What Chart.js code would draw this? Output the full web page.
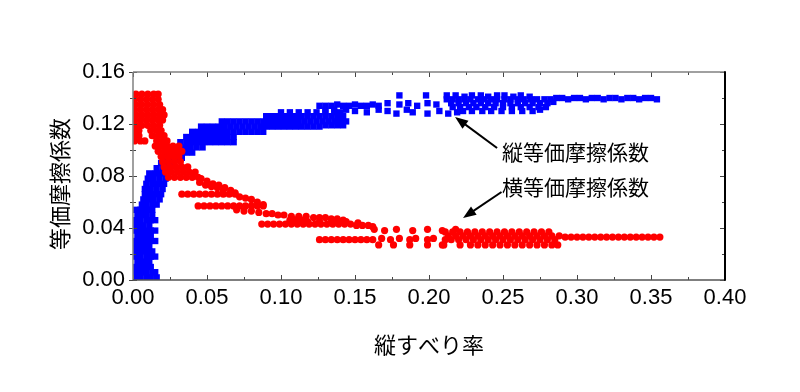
<!DOCTYPE html>
<html>
<head>
<meta charset="utf-8">
<script src="https://cdn.jsdelivr.net/npm/chart.js@4"></script>
<style>
  html, body { margin: 0; padding: 0; background: #fff; }
</style>
</head>
<body>
<canvas id="chart" width="800" height="392"></canvas>
<script>
// axis ticks
const xTicks = [0, 0.05, 0.10, 0.15, 0.20, 0.25, 0.30, 0.35, 0.40];
const yTicks = [0, 0.04, 0.08, 0.12, 0.16];
const xMinor = [0.025, 0.075, 0.125, 0.175, 0.225, 0.275, 0.325, 0.375];
const yMinor = [0.02, 0.06, 0.10, 0.14];

const xTitle = '縦すべり率';
const yTitle = '等価摩擦係数';
const seriesNames = ['縦等価摩擦係数', '横等価摩擦係数'];

// 縦等価摩擦係数 (slip ratio, coefficient)
const blueData = [
  [0.002,0.002],[0.005,0.002],[0.009,0.002],[0.012,0.002],[0.016,0.002],
  [0.002,0.006],[0.006,0.006],[0.009,0.006],[0.013,0.006],[0.015,0.006],
  [0.002,0.010],[0.005,0.010],[0.008,0.010],[0.012,0.010],
  [0.003,0.014],[0.006,0.014],[0.009,0.014],[0.011,0.014],
  [0.002,0.018],[0.005,0.018],[0.009,0.018],[0.012,0.018],[0.015,0.018],
  [0.001,0.022],[0.004,0.022],[0.008,0.022],[0.011,0.022],[0.013,0.022],
  [0.002,0.026],[0.006,0.026],[0.009,0.026],[0.011,0.026],
  [0.001,0.030],[0.004,0.030],[0.008,0.030],[0.011,0.030],[0.015,0.030],
  [0.003,0.034],[0.006,0.034],[0.009,0.034],[0.012,0.034],
  [0.002,0.038],[0.005,0.038],[0.008,0.038],[0.012,0.038],[0.015,0.038],
  [0.001,0.042],[0.004,0.042],[0.007,0.042],[0.011,0.042],
  [0.002,0.046],[0.005,0.046],[0.009,0.046],[0.012,0.046],[0.015,0.046],
  [0.003,0.050],[0.006,0.050],[0.009,0.050],[0.013,0.050],
  [0.002,0.054],[0.005,0.054],[0.008,0.054],[0.011,0.054],[0.013,0.054],
  [0.006,0.058],[0.009,0.058],[0.013,0.058],[0.016,0.058],
  [0.007,0.062],[0.010,0.062],[0.014,0.062],[0.018,0.062],
  [0.008,0.066],[0.011,0.066],[0.015,0.066],[0.019,0.066],
  [0.008,0.070],[0.012,0.070],[0.016,0.070],[0.020,0.070],
  [0.009,0.074],[0.013,0.074],[0.017,0.074],[0.021,0.074],
  [0.010,0.078],[0.014,0.078],[0.018,0.078],[0.022,0.078],
  [0.011,0.082],[0.015,0.082],[0.019,0.082],[0.023,0.082],
  [0.016,0.086],[0.020,0.086],[0.024,0.086],
  [0.019,0.090],[0.023,0.090],[0.027,0.090],
  [0.021,0.094],[0.025,0.094],[0.029,0.094],[0.033,0.094],
  [0.024,0.098],[0.028,0.098],[0.032,0.098],[0.036,0.098],[0.040,0.098],
  [0.027,0.102],[0.031,0.102],[0.035,0.102],[0.039,0.102],[0.043,0.102],[0.047,0.102],
  [0.032,0.106],[0.036,0.106],[0.040,0.106],[0.044,0.106],[0.048,0.106],[0.052,0.106],[0.056,0.106],[0.060,0.106],[0.064,0.106],[0.068,0.106],
  [0.036,0.110],[0.040,0.110],[0.044,0.110],[0.048,0.110],[0.052,0.110],[0.056,0.110],[0.060,0.110],[0.064,0.110],[0.068,0.110],
  [0.040,0.114],[0.044,0.114],[0.048,0.114],[0.052,0.114],[0.056,0.114],[0.060,0.114],[0.064,0.114],[0.068,0.114],[0.072,0.114],[0.076,0.114],[0.080,0.114],[0.084,0.114],[0.088,0.114],
  [0.046,0.118],[0.050,0.118],[0.054,0.118],[0.058,0.118],[0.062,0.118],[0.066,0.118],[0.070,0.118],[0.074,0.118],[0.078,0.118],[0.082,0.118],[0.086,0.118],[0.090,0.118],
  [0.094,0.118],[0.098,0.118],[0.102,0.118],[0.106,0.118],[0.110,0.118],[0.114,0.118],[0.118,0.118],[0.122,0.118],[0.126,0.118],[0.130,0.119],[0.134,0.119],[0.138,0.119],[0.142,0.119],
  [0.060,0.122],[0.064,0.122],[0.068,0.122],[0.072,0.122],[0.076,0.122],[0.080,0.122],[0.084,0.122],[0.088,0.122],[0.092,0.122],[0.096,0.122],[0.100,0.122],
  [0.104,0.122],[0.108,0.122],[0.112,0.122],[0.116,0.122],[0.120,0.122],[0.124,0.122],[0.128,0.122],[0.132,0.122],[0.136,0.122],[0.140,0.122],[0.144,0.122],
  [0.090,0.126],[0.094,0.126],[0.098,0.126],[0.102,0.126],[0.106,0.126],[0.110,0.126],[0.114,0.126],[0.118,0.126],[0.122,0.126],[0.126,0.126],[0.130,0.126],[0.134,0.126],[0.138,0.126],[0.142,0.126],
  [0.100,0.129],[0.106,0.129],[0.112,0.129],[0.118,0.129],[0.124,0.129],[0.130,0.129],[0.136,0.129],[0.140,0.129],
  [0.126,0.134],[0.130,0.134],[0.134,0.134],[0.138,0.135],[0.142,0.134],[0.146,0.134],[0.150,0.135],[0.154,0.134],[0.158,0.134],[0.162,0.135],[0.166,0.134],
  [0.130,0.131],[0.136,0.131],[0.144,0.131],[0.150,0.130],[0.158,0.129],[0.166,0.131],[0.172,0.130],[0.178,0.128],[0.185,0.131],[0.189,0.129],[0.199,0.128],[0.207,0.130],[0.213,0.128],[0.219,0.129],
  [0.172,0.136],[0.180,0.135],[0.186,0.136],[0.192,0.134],[0.199,0.136],[0.205,0.135],
  [0.180,0.142],[0.198,0.142],
  [0.212,0.142],[0.218,0.142],[0.224,0.141],[0.229,0.142],[0.235,0.142],[0.240,0.141],[0.246,0.142],[0.251,0.142],[0.257,0.141],[0.262,0.142],[0.268,0.141],
  [0.212,0.139],[0.216,0.139],[0.220,0.139],[0.224,0.139],[0.228,0.139],[0.233,0.139],[0.237,0.139],[0.242,0.139],[0.246,0.139],[0.251,0.139],[0.255,0.139],[0.260,0.139],[0.264,0.139],[0.269,0.139],[0.273,0.139],[0.278,0.139],[0.282,0.139],
  [0.215,0.136],[0.220,0.136],[0.225,0.136],[0.230,0.136],[0.235,0.136],[0.240,0.136],[0.245,0.136],[0.250,0.136],[0.255,0.136],[0.260,0.136],[0.265,0.136],[0.270,0.136],[0.275,0.136],[0.280,0.136],[0.284,0.137],
  [0.216,0.133],[0.221,0.133],[0.227,0.133],[0.232,0.133],[0.238,0.133],[0.244,0.133],[0.250,0.133],[0.256,0.133],[0.262,0.133],[0.268,0.133],[0.274,0.133],[0.279,0.133],
  [0.223,0.130],[0.229,0.130],[0.236,0.130],[0.242,0.130],[0.249,0.130],[0.256,0.130],[0.263,0.130],[0.270,0.130],[0.275,0.131],
  [0.286,0.140],[0.290,0.140],[0.294,0.139],[0.298,0.140],[0.302,0.140],[0.306,0.139],[0.310,0.140],[0.314,0.140],[0.318,0.139],[0.322,0.140],
  [0.326,0.140],[0.330,0.139],[0.334,0.140],[0.338,0.140],[0.342,0.139],[0.346,0.140],[0.350,0.140],[0.354,0.139]
];

// 横等価摩擦係数
const redData = [
  [0.002,0.143],[0.006,0.143],[0.010,0.143],[0.014,0.143],[0.017,0.143],
  [0.001,0.139],[0.005,0.139],[0.009,0.139],[0.013,0.139],[0.017,0.139],
  [0.002,0.135],[0.006,0.135],[0.010,0.135],[0.014,0.135],[0.018,0.135],
  [0.001,0.131],[0.005,0.131],[0.009,0.131],[0.013,0.131],[0.017,0.131],[0.020,0.131],
  [0.002,0.127],[0.006,0.127],[0.010,0.127],[0.014,0.127],[0.018,0.127],[0.021,0.127],
  [0.001,0.123],[0.005,0.123],[0.009,0.123],[0.013,0.123],[0.017,0.123],[0.020,0.123],
  [0.002,0.119],[0.006,0.119],[0.010,0.119],[0.014,0.119],[0.018,0.119],
  [0.001,0.115],[0.004,0.115],[0.012,0.115],[0.016,0.115],[0.019,0.115],
  [0.001,0.111],[0.004,0.111],[0.013,0.111],[0.017,0.111],[0.021,0.111],
  [0.001,0.107],[0.005,0.107],[0.008,0.107],[0.016,0.107],[0.020,0.107],[0.023,0.107],
  [0.015,0.103],[0.019,0.103],[0.023,0.103],[0.027,0.103],[0.031,0.103],
  [0.017,0.099],[0.021,0.099],[0.025,0.099],[0.029,0.099],[0.033,0.099],
  [0.019,0.095],[0.023,0.095],[0.027,0.095],[0.031,0.095],
  [0.020,0.091],[0.024,0.091],[0.028,0.091],[0.032,0.091],
  [0.021,0.087],[0.025,0.087],[0.029,0.087],[0.033,0.087],[0.037,0.087],
  [0.022,0.083],[0.026,0.083],[0.030,0.083],[0.034,0.083],[0.038,0.083],[0.042,0.083],
  [0.024,0.079],[0.028,0.079],[0.032,0.079],[0.036,0.079],[0.040,0.079],[0.044,0.079],
  [0.046,0.078],[0.050,0.076],[0.054,0.074],[0.058,0.073],[0.062,0.071],[0.066,0.069],[0.069,0.067],
  [0.045,0.075],[0.049,0.073],[0.053,0.072],[0.057,0.071],[0.061,0.069],
  [0.033,0.066],[0.037,0.066],[0.041,0.066],[0.045,0.066],[0.049,0.066],[0.053,0.066],[0.057,0.066],[0.061,0.066],[0.065,0.066],[0.069,0.066],
  [0.072,0.064],[0.076,0.063],[0.080,0.062],[0.084,0.060],[0.088,0.058],
  [0.044,0.057],[0.048,0.057],[0.052,0.057],[0.056,0.057],[0.060,0.057],[0.064,0.057],[0.068,0.057],[0.072,0.057],[0.076,0.057],[0.080,0.057],[0.084,0.057],[0.088,0.057],
  [0.070,0.054],[0.075,0.053],[0.080,0.053],[0.085,0.052],[0.090,0.051],[0.094,0.051],[0.098,0.050],[0.102,0.050],[0.107,0.049],[0.112,0.049],[0.117,0.049],
  [0.122,0.048],[0.126,0.048],[0.130,0.048],[0.134,0.047],[0.138,0.047],[0.142,0.046],
  [0.087,0.043],[0.091,0.043],[0.095,0.043],[0.099,0.043],[0.103,0.043],[0.107,0.043],[0.111,0.043],[0.115,0.043],[0.119,0.043],[0.123,0.043],
  [0.127,0.043],[0.131,0.043],[0.135,0.043],[0.139,0.043],[0.143,0.043],[0.147,0.043],[0.151,0.042],[0.155,0.042],[0.159,0.042],[0.162,0.041],
  [0.106,0.046],[0.110,0.046],[0.114,0.046],[0.118,0.045],[0.126,0.045],[0.134,0.044],[0.144,0.045],[0.152,0.044],
  [0.163,0.039],[0.170,0.038],[0.178,0.039],[0.189,0.038],[0.199,0.039],[0.209,0.038],[0.218,0.039],
  [0.126,0.031],[0.130,0.031],[0.134,0.031],[0.138,0.031],[0.142,0.031],[0.146,0.031],[0.150,0.031],[0.154,0.031],[0.158,0.031],[0.162,0.031],
  [0.168,0.032],[0.174,0.031],[0.180,0.032],[0.187,0.031],[0.191,0.032],[0.199,0.031],[0.203,0.032],[0.211,0.031],
  [0.166,0.027],[0.176,0.027],[0.187,0.027],[0.199,0.027],[0.209,0.027],
  [0.211,0.037],[0.216,0.037],[0.221,0.037],[0.226,0.037],[0.231,0.037],[0.236,0.037],[0.241,0.037],[0.246,0.037],[0.251,0.037],[0.256,0.037],[0.261,0.037],[0.266,0.037],[0.271,0.037],[0.276,0.037],[0.281,0.037],
  [0.213,0.034],[0.218,0.034],[0.223,0.034],[0.228,0.034],[0.233,0.034],[0.238,0.034],[0.243,0.034],[0.248,0.034],[0.253,0.034],[0.258,0.034],[0.263,0.034],[0.268,0.034],[0.273,0.034],[0.278,0.034],[0.283,0.034],[0.288,0.034],
  [0.215,0.031],[0.220,0.031],[0.225,0.031],[0.230,0.031],[0.235,0.031],[0.240,0.031],[0.245,0.031],[0.250,0.031],[0.255,0.031],[0.260,0.031],[0.265,0.031],[0.270,0.031],[0.275,0.031],[0.280,0.031],[0.285,0.031],
  [0.210,0.027],[0.221,0.027],[0.228,0.027],[0.233,0.027],[0.238,0.027],[0.243,0.027],[0.248,0.027],[0.253,0.027],[0.258,0.027],[0.263,0.027],[0.268,0.027],[0.273,0.027],[0.278,0.027],[0.283,0.027],[0.287,0.027],
  [0.292,0.033],[0.296,0.033],[0.300,0.033],[0.304,0.033],[0.308,0.033],[0.312,0.033],[0.316,0.033],[0.320,0.033],[0.324,0.033],[0.328,0.033],
  [0.332,0.033],[0.336,0.033],[0.340,0.033],[0.344,0.033],[0.348,0.033],[0.352,0.033],[0.356,0.033]
];

// callouts: label anchor and arrow (data coords)
const notes = [
  { text: seriesNames[0], at: [0.2493, 0.0985], from: [0.246, 0.1015], to: [0.2176, 0.1254] },
  { text: seriesNames[1], at: [0.2493, 0.0715], from: [0.249, 0.0677], to: [0.223, 0.0477] }
];

const numFont = '"Liberation Sans", Arial, sans-serif';
const jpFont = '"Noto Sans CJK JP", sans-serif';

const toXY = a => a.map(p => ({ x: p[0], y: p[1] }));

function arrow(ctx, x0, y0, x1, y1) {
  const ang = Math.atan2(y1 - y0, x1 - x0);
  const hl = 13, hw = 5;
  ctx.beginPath();
  ctx.moveTo(x0, y0);
  ctx.lineTo(x1 - Math.cos(ang) * hl * 0.8, y1 - Math.sin(ang) * hl * 0.8);
  ctx.stroke();
  ctx.beginPath();
  ctx.moveTo(x1, y1);
  ctx.lineTo(x1 - Math.cos(ang) * hl - Math.sin(ang) * hw, y1 - Math.sin(ang) * hl + Math.cos(ang) * hw);
  ctx.lineTo(x1 - Math.cos(ang) * hl + Math.sin(ang) * hw, y1 - Math.sin(ang) * hl - Math.cos(ang) * hw);
  ctx.closePath();
  ctx.fill();
}

//frame, inward ticks, callouts, axis titles
const decor = {
  id: 'decor',
  afterDatasetsDraw(chart) {
    const { ctx, chartArea: a, scales: { x, y } } = chart;
    ctx.save();
    ctx.lineWidth = 1;
    ctx.strokeStyle = '#444';
    const seg = (x0, y0, x1, y1) => { ctx.beginPath(); ctx.moveTo(x0, y0); ctx.lineTo(x1, y1); ctx.stroke(); };
    xTicks.forEach(v => { const p = Math.round(x.getPixelForValue(v)) + 0.5; seg(p, a.bottom, p, a.bottom - 5); seg(p, a.top, p, a.top + 5); });
    xMinor.forEach(v => { const p = Math.round(x.getPixelForValue(v)) + 0.5; seg(p, a.bottom, p, a.bottom - 3); seg(p, a.top, p, a.top + 3); });
    yTicks.forEach(v => { const p = Math.round(y.getPixelForValue(v)) + 0.5; seg(a.left - 4, p, a.left + 4, p); seg(a.right, p, a.right - 5, p); });
    yMinor.forEach(v => { const p = Math.round(y.getPixelForValue(v)) + 0.5; seg(a.left - 3, p, a.left + 3, p); seg(a.right, p, a.right - 3, p); });

    ctx.lineWidth = 1.5;
    ctx.strokeStyle = '#808080';
    seg(a.left, a.bottom, a.left, a.top);
    seg(a.left, a.top, a.right, a.top);
    ctx.strokeStyle = '#555';
    seg(a.left, a.bottom, a.right, a.bottom);
    ctx.strokeStyle = '#000';
    ctx.lineWidth = 2;
    seg(a.right, a.top - 0.75, a.right, a.bottom + 0.75);

    // callouts
    ctx.fillStyle = '#000';
    ctx.strokeStyle = '#000';
    ctx.lineWidth = 2;
    ctx.font = '21px ' + jpFont;
    ctx.textAlign = 'left';
    ctx.textBaseline = 'middle';
    notes.forEach(n => {
      ctx.fillText(n.text, x.getPixelForValue(n.at[0]), y.getPixelForValue(n.at[1]));
      arrow(ctx, x.getPixelForValue(n.from[0]), y.getPixelForValue(n.from[1]),
                 x.getPixelForValue(n.to[0]), y.getPixelForValue(n.to[1]));
    });

    // axis titles
    ctx.font = '22px ' + jpFont;
    ctx.textAlign = 'center';
    ctx.fillText(xTitle, (a.left + a.right) / 2, 345);
    ctx.translate(60, 184);
    ctx.rotate(-Math.PI / 2);
    ctx.fillText(yTitle, 0, 0);
    ctx.restore();
  }
};

const config = {
  type: 'scatter',
  data: {
    datasets: [
      { label: seriesNames[1], data: toXY(redData), order: 0, pointStyle: 'circle', pointRadius: 3.6, backgroundColor: '#ff0000', borderWidth: 0 },
      { label: seriesNames[0], data: toXY(blueData), order: 1, pointStyle: 'rect', pointRadius: 4.5, backgroundColor: '#0000ff', borderWidth: 0 }
    ]
  },
  options: {
    responsive: false,
    animation: false,
    events: [],
    layout: { padding: { top: 72, right: 75, left: 0, bottom: 0 } },
    plugins: { legend: { display: false }, tooltip: { enabled: false } },
    scales: {
      x: {
        type: 'linear', min: 0, max: 0.4,
        grid: { display: false, drawTicks: false }, border: { display: false },
        ticks: { stepSize: 0.05, autoSkip: false, maxRotation: 0, padding: 5, color: '#000',
                 font: { family: numFont, size: 22 }, callback: v => v.toFixed(2) },
        afterFit: s => { s.height = 112; }
      },
      y: {
        type: 'linear', min: 0, max: 0.16,
        grid: { display: false, drawTicks: false }, border: { display: false },
        ticks: { stepSize: 0.04, padding: 8, color: '#000',
                 font: { family: numFont, size: 22 }, callback: v => v.toFixed(2) },
        afterFit: s => { s.width = 133; }
      }
    }
  },
  plugins: [decor]
};

const chart = new Chart(document.getElementById('chart'), config);
</script>
</body>
</html>
